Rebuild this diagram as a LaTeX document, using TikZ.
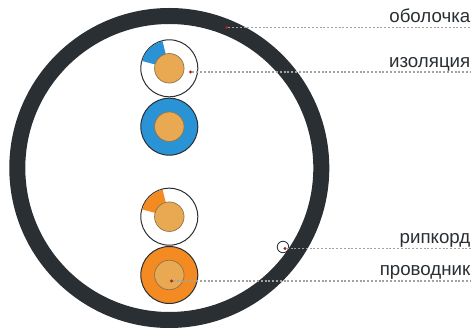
\documentclass[tikz,border=0pt]{standalone}
\usepackage{fontspec}
\usetikzlibrary{calc}
\setmainfont{Liberation Sans}
\definecolor{ringc}{HTML}{2A2F33}
\definecolor{corec}{HTML}{E8A952}
\definecolor{corel}{HTML}{8F7448}
\definecolor{bluec}{HTML}{2A93D5}
\definecolor{orangec}{HTML}{F48A22}
\definecolor{dotc}{HTML}{B01E1E}
\definecolor{leadc}{HTML}{A2A2A2}
\tikzset{
  sheath/.style={circle,draw=ringc,line width=1pt,minimum size=57pt,inner sep=0pt,fill=white},
  corecirc/.style={circle,draw=corel,line width=0.7pt,fill=corec,minimum size=29.5pt,inner sep=0pt},
  reddot/.style={circle,fill=dotc,minimum size=3.2pt,inner sep=0pt},
  lead/.style={draw=leadc,line width=1.4pt,dash pattern=on 2pt off 1.8pt},
  lab/.style={anchor=base east,inner sep=0pt,text=ringc,font=\fontsize{18.7}{22}\selectfont},
}
\begin{document}
\begin{tikzpicture}[x=1pt,y=-1pt]
\useasboundingbox (0,0) rectangle (472,328);
\fill[white] (0,0) rectangle (472,328);
\node[circle,draw=ringc,line width=16pt,minimum size=304pt,inner sep=0pt] (jacket) at (169.3,168) {};
% upper pair
\node[sheath] (s1) at (169.3,68.3) {};
\fill[bluec] (s1.center) -- ($(s1.center)+(104:28pt)$) arc[start angle=104,end angle=165,radius=28pt] -- cycle;
\node[sheath,fill=bluec] (s2) at (169.3,126.7) {};
\node[corecirc] (c1) at (s1) {};
\node[corecirc] (c2) at (s2) {};
% lower pair
\node[sheath] (s3) at (169.3,216.7) {};
\fill[orangec] (s3.center) -- ($(s3.center)+(104:28pt)$) arc[start angle=104,end angle=165,radius=28pt] -- cycle;
\node[sheath,fill=orangec] (s4) at (169.3,275) {};
\node[corecirc] (c3) at (s3) {};
\node[corecirc] (c4) at (s4) {};
% ripcord
\node[circle,draw=ringc,line width=0.8pt,fill=white,minimum size=11.5pt,inner sep=0pt] (rip) at (283,247) {};
% leader lines
\node[reddot] (d1) at (226.5,27.5) {};
\node[reddot] (d2) at (190.5,72) {};
\node[reddot] (d3) at (285,248.5) {};
\node[reddot] (d4) at (171.5,281) {};
\coordinate (e1) at (471,27.5);
\coordinate (e2) at (471,72);
\coordinate (e3) at (471,248.5);
\coordinate (e4) at (471,281);
\draw[lead] (d1) -- (e1);
\draw[lead] (d2) -- (e2);
\draw[lead] (d3) -- (e3);
\draw[lead] (d4) -- (e4);
\node[lab] (t1) at (470.5,22.7) {оболочка};
\node[lab] (t2) at (470.5,68) {изоляция};
\node[lab] (t3) at (470.5,243.3) {рипкорд};
\node[lab] (t4) at (470.5,275.5) {проводник};
\end{tikzpicture}
\end{document}
